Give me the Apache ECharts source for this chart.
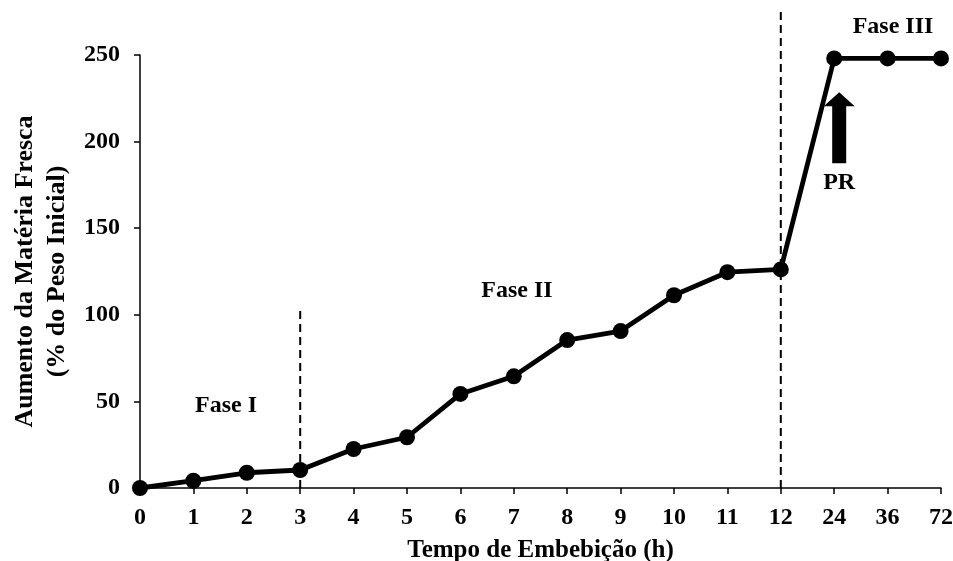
<!DOCTYPE html>
<html>
<head>
<meta charset="utf-8">
<script src="https://cdn.jsdelivr.net/npm/echarts@6/dist/echarts.min.js"></script>
<style>html,body{margin:0;padding:0;background:#fff}#c{width:953px;height:561px}</style>
</head>
<body>
<div id="c"></div>
<script>
const categories = ['0','1','2','3','4','5','6','7','8','9','10','11','12','24','36','72'];
const values = [0, 4.2, 8.8, 10.4, 22.5, 29.3, 54.3, 64.5, 85.4, 90.6, 111.3, 124.6, 126.2, 248, 248, 248];
const yTicks = [0, 50, 100, 150, 200, 250];
const phaseBoundaries = [{cat: '3', top: 104}, {cat: '12', top: 276}];
const arrowPoint = {cat: '24', value: 208, label: 'PR'};
const phaseLabels = ['Fase I', 'Fase II', 'Fase III'];

const FONT = "'Times New Roman', 'Liberation Serif', serif";
const chart = echarts.init(document.getElementById('c'));

const dashedSeries = phaseBoundaries.map(b => ({
  type: 'line',
  clip: false,
  silent: true,
  symbol: 'none',
  z: 1,
  lineStyle: {color: '#000', width: 2, type: [8, 5]},
  data: [[categories.indexOf(b.cat), 0], [categories.indexOf(b.cat), b.top]]
}));

chart.setOption({
  animation: false,
  backgroundColor: '#fff',
  grid: {left: 140, right: 12, top: 55, bottom: 73, containLabel: false, outerBoundsMode: 'none'},
  xAxis: {
    type: 'category',
    data: categories,
    boundaryGap: false,
    name: 'Tempo de Embebição (h)',
    nameLocation: 'middle',
    nameGap: 50,
    nameTextStyle: {fontFamily: FONT, fontWeight: 'bold', fontSize: 25, color: '#000'},
    axisLine: {lineStyle: {color: '#000', width: 1.5}},
    axisTick: {show: true, alignWithLabel: true, length: 6, lineStyle: {color: '#000', width: 1.5}},
    axisLabel: {fontFamily: FONT, fontWeight: 'bold', fontSize: 24, color: '#000', margin: 18, interval: 0},
    splitLine: {show: false}
  },
  yAxis: {
    type: 'value',
    min: yTicks[0],
    max: yTicks[yTicks.length - 1],
    interval: yTicks[1] - yTicks[0],
    name: 'Aumento da Matéria Fresca\n(% do Peso Inicial)',
    nameLocation: 'middle',
    nameGap: 60,
    nameTextStyle: {fontFamily: FONT, fontWeight: 'bold', fontSize: 26, color: '#000', lineHeight: 32},
    axisLine: {show: true, lineStyle: {color: '#000', width: 1.5}},
    axisTick: {show: true, length: 6, lineStyle: {color: '#000', width: 1.5}},
    axisLabel: {fontFamily: FONT, fontWeight: 'bold', fontSize: 24, color: '#000', margin: 20},
    splitLine: {show: false}
  },
  series: dashedSeries.concat([
    {
      type: 'line',
      z: 3,
      data: values,
      symbol: 'circle',
      symbolSize: 16,
      lineStyle: {color: '#000', width: 4.8},
      itemStyle: {color: '#000'}
    },
    {
      type: 'scatter',
      clip: false,
      z: 4,
      symbol: 'path://M15.5,0 L31,14 L22.5,14 L22.5,71 L8.5,71 L8.5,14 L0,14 Z',
      symbolSize: [31, 71],
      symbolOffset: [5, 0],
      itemStyle: {color: '#000', opacity: 1},
      label: {show: true, position: 'bottom', distance: 8, formatter: arrowPoint.label,
        fontFamily: FONT, fontWeight: 'bold', fontSize: 24, color: '#000', opacity: 1},
      data: [[categories.indexOf(arrowPoint.cat), arrowPoint.value]]
    }
  ]),
  graphic: [
    {type: 'text', x: 226, y: 406, style: {text: phaseLabels[0], font: "bold 24px " + FONT, fill: '#000', align: 'center', verticalAlign: 'middle'}},
    {type: 'text', x: 517, y: 291, style: {text: phaseLabels[1], font: "bold 24px " + FONT, fill: '#000', align: 'center', verticalAlign: 'middle'}},
    {type: 'text', x: 893, y: 27, style: {text: phaseLabels[2], font: "bold 24px " + FONT, fill: '#000', align: 'center', verticalAlign: 'middle'}}
  ]
});
</script>
</body>
</html>
